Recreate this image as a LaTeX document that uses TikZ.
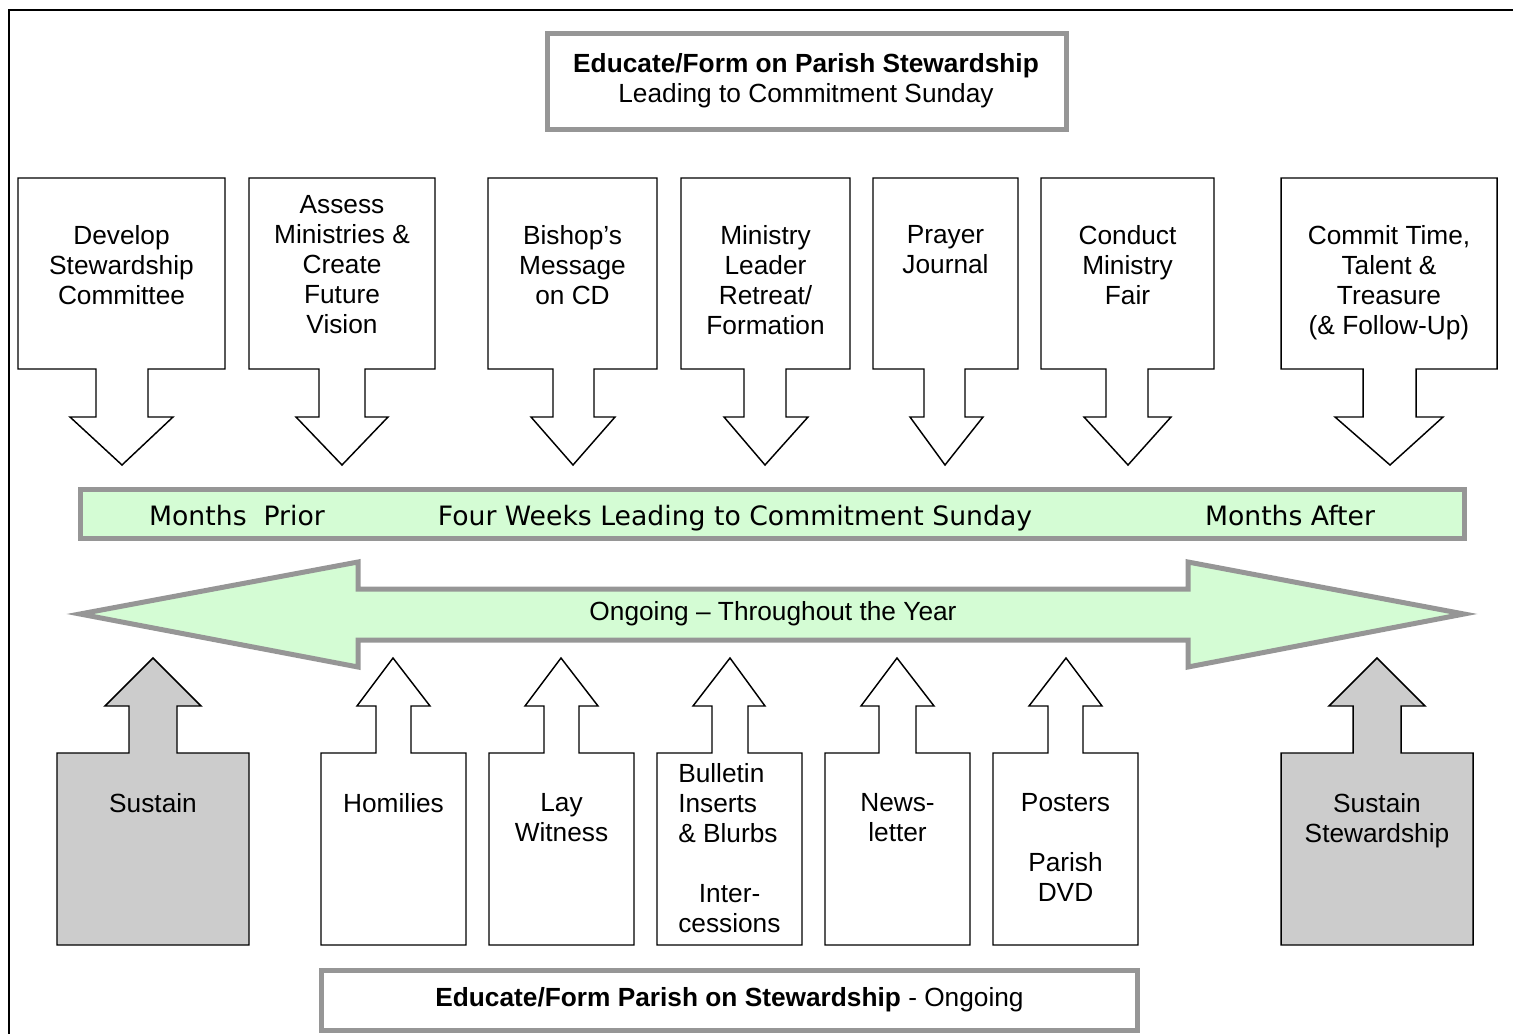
\documentclass[tikz,border=0pt]{standalone}
\usepackage{fontspec}
\setmainfont{Liberation Sans}
\newfontfamily\barfont{DejaVu Sans}

\definecolor{bargreen}{RGB}{212,252,212}
\definecolor{framegray}{RGB}{150,150,150}
\definecolor{sustaingray}{RGB}{204,204,204}

\tikzset{
  callout/.style={draw=black, line width=1.1pt, fill=white},
  sustaincallout/.style={callout, fill=sustaingray},
  greenshape/.style={draw=framegray, line width=3.75pt, fill=bargreen},
  graybox/.style={draw=framegray, line width=3.75pt, fill=white},
  boxtext/.style={inner sep=0pt, align=center, anchor=north, font=\fontsize{19.7pt}{22.5pt}\selectfont},
  bartext/.style={inner sep=0pt, anchor=base, font=\barfont\fontsize{20pt}{24pt}\selectfont},
}

% box with arrow pointing down: style, left, right, shaft l/r, head l/r, tip
\newcommand{\downcallout}[8]{%
  \draw[#1] (#2,178) -- (#3,178) -- (#3,369) -- (#5,369) -- (#5,417) -- (#7,417)
    -- (#8,465) -- (#6,417) -- (#4,417) -- (#4,369) -- (#2,369) -- cycle;}
% box with arrow pointing up
\newcommand{\upcallout}[8]{%
  \draw[#1] (#2,945) -- (#2,753) -- (#4,753) -- (#4,706) -- (#6,706) -- (#8,658)
    -- (#7,706) -- (#5,706) -- (#5,753) -- (#3,753) -- (#3,945) -- cycle;}

\begin{document}
\begin{tikzpicture}[x=0.75pt, y=-0.75pt]
  \useasboundingbox (0,0) rectangle (1513,1034);
  \draw[line width=1.5pt] (9,1034) -- (9,10) -- (1513,10);

  % title
  \draw[graybox] (547.5,33.5) rectangle (1066.5,129.5);
  \node[boxtext] (title) at (806,53) {\textbf{Educate/Form on Parish Stewardship}\\Leading to Commitment Sunday};

  % steps leading to commitment sunday
  \downcallout{callout}{18}{225}{96}{148}{70}{173}{122}
  \downcallout{callout}{249}{435}{319}{365}{296}{388}{342}
  \downcallout{callout}{488}{657}{553}{594}{531}{615}{573}
  \downcallout{callout}{681}{850}{744}{786}{724}{808}{765}
  \downcallout{callout}{873}{1018}{924}{965}{910}{983}{945}
  \downcallout{callout}{1041}{1214}{1106}{1148}{1084}{1171}{1128}
  \downcallout{callout}{1281}{1497}{1363}{1416}{1335}{1443}{1390}

  \node[boxtext] (develop) at (121.5,225) {Develop\\Stewardship\\Committee};
  \node[boxtext] (assess) at (342,195) {Assess\\Ministries \&\\Create\\Future\\Vision};
  \node[boxtext] (bishop) at (572.5,225) {Bishop’s\\Message\\on CD};
  \node[boxtext] (retreat) at (765.5,225) {Ministry\\Leader\\Retreat/\\Formation};
  \node[boxtext] (prayer) at (945.5,225) {Prayer\\Journal};
  \node[boxtext] (fair) at (1127.5,225) {Conduct\\Ministry\\Fair};
  \node[boxtext] (commit) at (1389,225) {Commit Time,\\Talent \&\\Treasure\\(\& Follow-Up)};

  % timeline
  \draw[greenshape] (80.5,489.5) rectangle (1464.5,538.5);
  \node[bartext] (prior) at (237,525) {Months\ \ Prior};
  \node[bartext] (weeks) at (735,525) {Four Weeks Leading to Commitment Sunday};
  \node[bartext] (after) at (1290,525) {Months After};

  \draw[greenshape] (80,614) -- (358,562) -- (358,589) -- (1188,589) -- (1188,562) -- (1464,614)
    -- (1188,667) -- (1188,640) -- (358,640) -- (358,667) -- cycle;
  \node[boxtext] (year) at (773,601) {Ongoing \textendash{} Throughout the Year};

  % ongoing
  \upcallout{sustaincallout}{57}{249}{129}{177}{105}{201}{153}
  \upcallout{callout}{321}{466}{376}{411}{357}{430}{393}
  \upcallout{callout}{489}{634}{544}{579}{525}{598}{561}
  \upcallout{callout}{657}{802}{712}{748}{693}{765}{730}
  \upcallout{callout}{825}{970}{879}{916}{861}{934}{897}
  \upcallout{callout}{993}{1138}{1048}{1083}{1029}{1102}{1066}
  \upcallout{sustaincallout}{1281}{1473}{1353}{1401}{1329}{1425}{1377}

  \node[boxtext] (sustain) at (153,793) {Sustain};
  \node[boxtext] (homilies) at (393.5,793) {Homilies};
  \node[boxtext] (witness) at (561.5,793) {Lay\\Witness};
  \node[boxtext, align=left, anchor=north west] (bulletin) at (678,763) {Bulletin\\Inserts\\\& Blurbs\\[22.5pt]\hspace*{15.5pt}Inter-\\cessions};
  \node[boxtext] (news) at (897.5,793) {News-\\letter};
  \node[boxtext] (posters) at (1065.5,793) {Posters\\[22.5pt]Parish\\DVD};
  \node[boxtext] (stewardship) at (1377,793) {Sustain\\Stewardship};

  \draw[graybox] (321.5,970.5) rectangle (1137.5,1030.5);
  \node[boxtext, anchor=base] (parish) at (729.5,1006) {\textbf{Educate/Form Parish on Stewardship} - Ongoing};
\end{tikzpicture}
\end{document}
